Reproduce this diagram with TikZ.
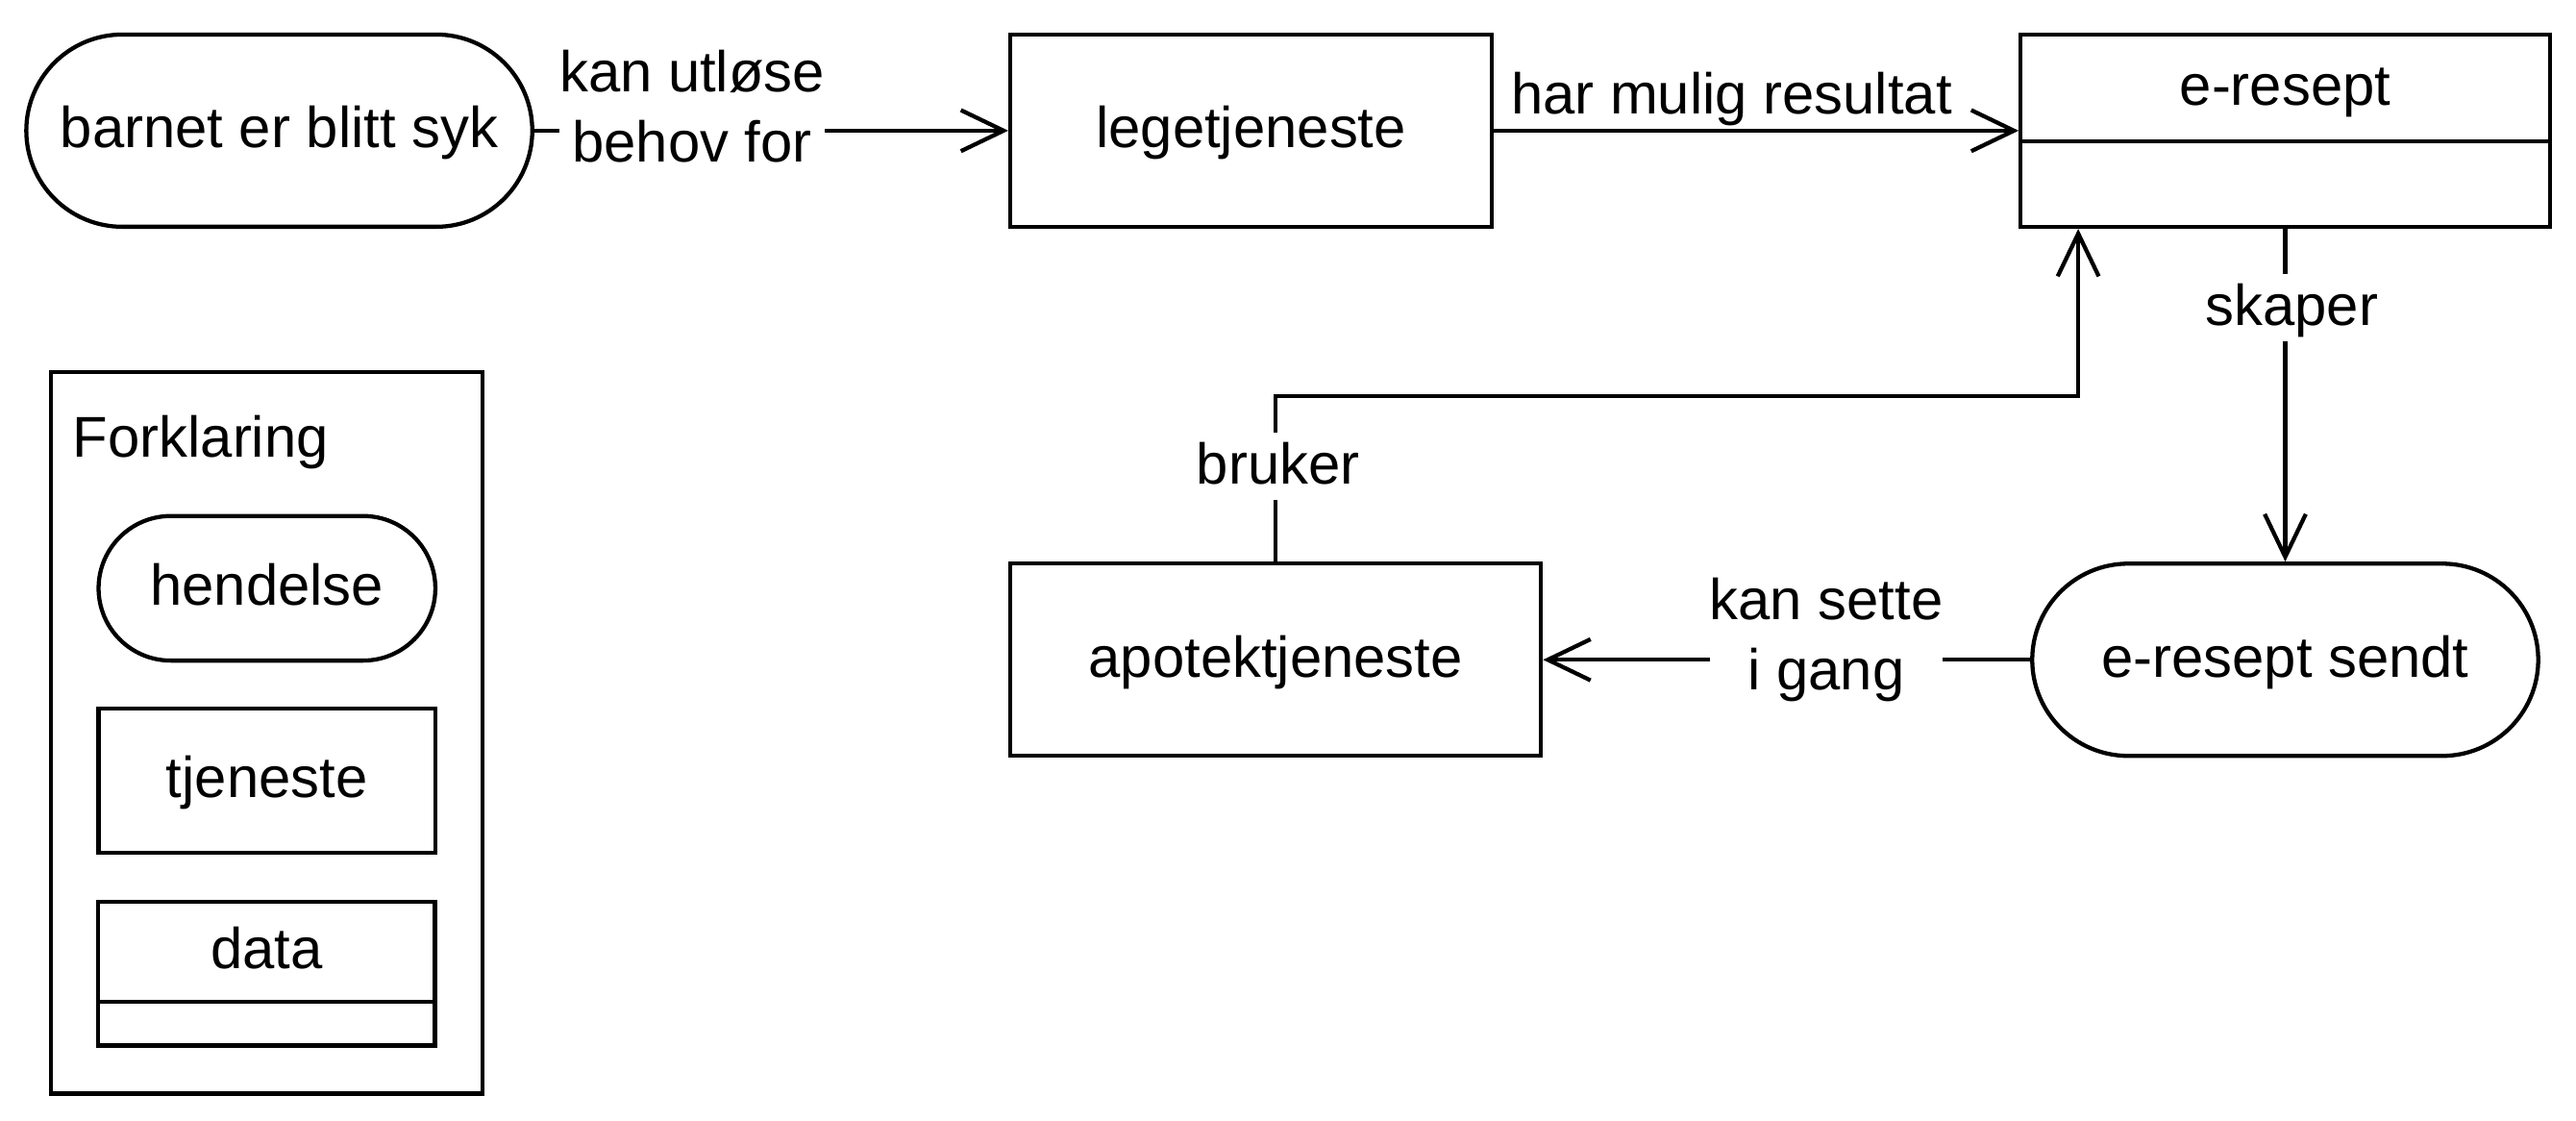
\documentclass[tikz,border=0pt]{standalone}
\usepackage{fontspec}
\setmainfont{Liberation Sans}
\usetikzlibrary{arrows.meta}

\begin{document}
\begin{tikzpicture}[
		x=0.5pt, y=-0.5pt,
		every node/.style={font=\fontsize{17.5pt}{21.35pt}\selectfont, inner sep=0pt},
		txt/.style={text height=15.5pt, text depth=5pt},
		event/.style={draw, txt, line width=1.25pt, minimum height=#1, rounded corners=0.5*#1},
		service/.style={draw, txt, line width=1.25pt, minimum height=#1},
		lbl/.style={txt, fill=white},
		mlbl/.style={align=center, fill=white},
		arrow/.style={-{Straight Barb[length=13pt, width=12.5pt]}, line width=1.25pt}
	]
	\useasboundingbox (0,0) rectangle (1568,682);

	% Nodes
	\node[event=58.5pt, minimum width=154pt] (sick) at (170,79.5) {barnet er blitt syk};
	\node[service=58.5pt, minimum width=146.5pt] (lege) at (761.5,79.5) {legetjeneste};
	\node[service=58.5pt, minimum width=161pt, label={[txt, yshift=13pt]center:e-resept}] (erp) at (1391,79.5) {};
	\draw[line width=1.25pt] (erp.west |- 0,86) -- (erp.east |- 0,86);
	\node[event=58.5pt, minimum width=154pt] (sendt) at (1391,401.5) {e-resept sendt};
	\node[service=58.5pt, minimum width=161.5pt] (apotek) at (776.5,401.5) {apotektjeneste};

	% Legend
	\node[service=219.5pt, minimum width=131.5pt] (legend) at (162.35,446) {};
	\node[txt, anchor=base west] (legendtitle) at (44,278) {Forklaring};
	\node[event=44pt, minimum width=102.5pt] (ev) at (162.5,358) {hendelse};
	\node[service=44pt, minimum width=102.5pt] (svc) at (162.5,475) {tjeneste};
	\node[service=43.8pt, minimum width=102.5pt, label={[txt, yshift=6.6pt]center:data}] (dat) at (162.3,592.4) {};
	\draw[line width=1.25pt] (dat.west |- 0,609.8) -- (dat.east |- 0,609.8);

	% Arrows
	\draw[arrow] (sick) -- (lege);
	\draw[arrow] (lege) -- (erp);
	\draw[arrow] (erp) -- (sendt);
	\draw[arrow] (sendt) -- (apotek);
	\coordinate (bend) at (1265,241);
	\draw[arrow] (apotek.north) |- (bend) -- (bend |- erp.south);

	% Labels
	\node[mlbl, anchor=base] (l1) at (421.3,98.3) {kan utløse\\behov for};
	\node[txt, anchor=base] (l2) at (1054,69.6) {har mulig resultat};
	\node[lbl, anchor=base] (l3) at (1395,197.8) {skaper};
	\node[lbl, anchor=base] (l4) at (778,294.4) {bruker};
	\node[mlbl, anchor=base] (l5) at (1111.6,419.6) {kan sette\\i gang};

\end{tikzpicture}
\end{document}
